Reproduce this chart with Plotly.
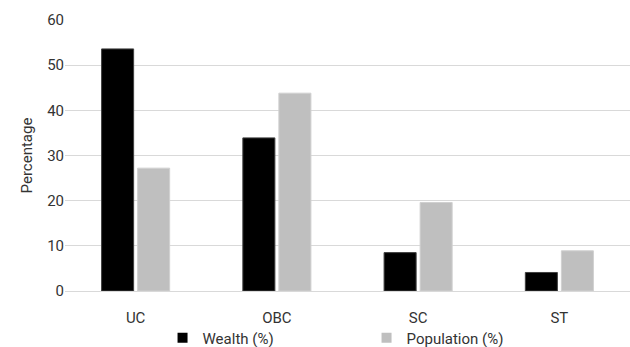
import plotly.graph_objects as go

categories = ["UC", "OBC", "SC", "ST"]
wealth = [53.6, 33.9, 8.5, 4.1]
population = [27.2, 43.8, 19.6, 8.9]
y_ticks = [0, 10, 20, 30, 40, 50, 60]

FONT = "Roboto, sans-serif"
TXT = "#333333"
SIZE = 15

fig = go.Figure()
fig.add_trace(go.Bar(
    x=categories, y=wealth, name="Wealth (%)", showlegend=False,
    marker=dict(color="#000000", line=dict(color="#404040", width=1)),
))
fig.add_trace(go.Bar(
    x=categories, y=population, name="Population (%)", showlegend=False,
    marker=dict(color="#bfbfbf", line=dict(color="#d0d0d0", width=1)),
))
# legend entries (square swatches)
fig.add_trace(go.Scatter(
    x=[None], y=[None], mode="markers", name="Wealth (%)",
    marker=dict(symbol="square", size=10, color="#000000"),
))
fig.add_trace(go.Scatter(
    x=[None], y=[None], mode="markers", name="Population (%)",
    marker=dict(symbol="square", size=10, color="#bfbfbf"),
))

fig.update_layout(
    width=630, height=347,
    margin=dict(l=65, r=0, t=20, b=56, autoexpand=False),
    paper_bgcolor="white", plot_bgcolor="white",
    barmode="group", bargap=0.49, bargroupgap=0.11,
    font=dict(family=FONT, size=SIZE, color=TXT),
    showlegend=True,
    legend=dict(
        orientation="h", xref="container", yref="container",
        x=0.258, xanchor="left", y=0.026, yanchor="middle",
        bgcolor="rgba(0,0,0,0)",
        font=dict(family=FONT, size=SIZE, color=TXT),
        entrywidth=159, entrywidthmode="pixels",
        itemwidth=30, tracegroupgap=0,
    ),
)
fig.update_xaxes(
    showgrid=False, showline=False, ticks="",
    tickfont=dict(family=FONT, size=SIZE, color=TXT),
    ticklabelstandoff=16,
)
fig.update_yaxes(
    range=[0, 60], tickvals=y_ticks,
    showgrid=True, gridcolor="#d9d9d9", gridwidth=1,
    zeroline=True, zerolinecolor="#d9d9d9", zerolinewidth=1,
    showline=False, ticks="",
    tickfont=dict(family=FONT, size=SIZE, color=TXT),
    title=dict(text="Percentage", font=dict(family=FONT, size=SIZE, color=TXT), standoff=10),
)

fig.write_html("out.html")
